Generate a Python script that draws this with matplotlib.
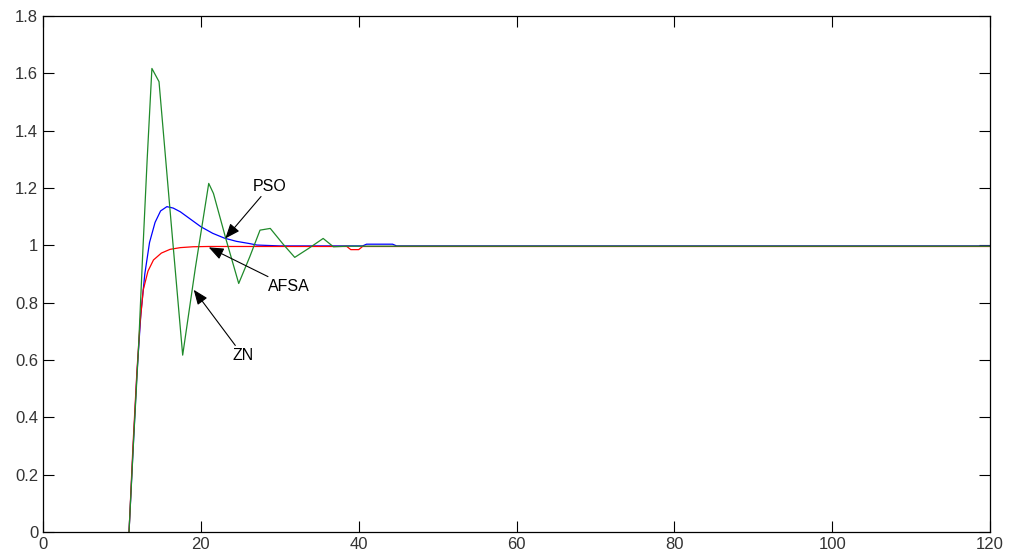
import matplotlib
matplotlib.use("Agg")
import matplotlib.pyplot as plt

# step responses (time, output)
zn_t = [10.9, 11.5, 12.1, 12.6, 13.2, 13.8, 14.7, 16.2, 17.7, 19.3, 21.0, 21.6, 23.2, 24.8,
        26.2, 27.5, 28.8, 30.4, 31.9, 33.7, 35.5, 36.8, 38.5, 120]
zn_y = [0, 0.33, 0.64, 0.95, 1.30, 1.617, 1.571, 1.09, 0.617, 0.92, 1.216, 1.181, 1.02, 0.867,
        0.96, 1.053, 1.059, 1.005, 0.958, 0.99, 1.024, 0.995, 0.997, 0.997]

pso_t = [10.9, 11.4, 11.9, 12.4, 12.9, 13.5, 14.2, 14.9, 15.7, 16.5, 17.4, 18.5, 20.0, 21.5,
         23.0, 24.5, 26.2, 27.1, 30.0, 40.5, 41.0, 44.3, 44.8, 120]
pso_y = [0, 0.28, 0.55, 0.76, 0.90, 1.01, 1.08, 1.12, 1.135, 1.13, 1.117, 1.095, 1.065, 1.042,
         1.025, 1.014, 1.006, 1.001, 0.998, 0.998, 1.004, 1.004, 0.998, 0.998]

afsa_t = [10.9, 11.4, 11.9, 12.3, 12.7, 13.3, 14.0, 15.0, 16.1, 17.4, 19.0, 21.0, 38.5, 39.0,
          40.0, 40.5, 120]
afsa_y = [0, 0.30, 0.56, 0.73, 0.844, 0.91, 0.949, 0.973, 0.986, 0.992, 0.995, 0.996, 0.996,
          0.985, 0.985, 0.996, 0.996]

x_ticks = [0, 20, 40, 60, 80, 100, 120]
y_ticks = [0, 0.2, 0.4, 0.6, 0.8, 1, 1.2, 1.4, 1.6, 1.8]
y_tick_labels = ['0', '0.2', '0.4', '0.6', '0.8', '1', '1.2', '1.4', '1.6', '1.8']

plt.rcParams['font.family'] = ['Liberation Sans', 'DejaVu Sans']

fig = plt.figure(figsize=(10.14, 5.6), dpi=100)
ax = fig.add_axes([43 / 1014, 1 - 532 / 560, 947 / 1014, 516 / 560])

ax.plot(pso_t, pso_y, color='#0000ff', lw=0.9)
ax.plot(afsa_t, afsa_y, color='#ff0000', lw=0.9)
ax.plot(zn_t, zn_y, color='#1f8a2a', lw=0.9)

arrow = dict(arrowstyle='-|>,head_length=0.5,head_width=0.2', color='k', lw=0.8,
             mutation_scale=18, shrinkA=0, shrinkB=0)
ax.annotate('PSO', xy=(23.1, 1.024), xytext=(26.6, 1.18), fontsize=11.5,
            ha='left', va='bottom', arrowprops=arrow)
ax.annotate('AFSA', xy=(21.0, 0.993), xytext=(28.5, 0.855), fontsize=11.5,
            ha='left', va='center', arrowprops=arrow)
ax.annotate('ZN', xy=(19.1, 0.845), xytext=(24.0, 0.615), fontsize=11.5,
            ha='left', va='center', arrowprops=arrow)

ax.set_xlim(0, 120)
ax.set_ylim(0, 1.8)
ax.set_xticks(x_ticks)
ax.set_yticks(y_ticks)
ax.set_yticklabels(y_tick_labels)
ax.tick_params(direction='in', length=8, width=0.8, top=True, right=True, labelsize=12,
               colors='k', labelcolor='#333333')
for s in ax.spines.values():
    s.set_linewidth(0.9)

fig.savefig("out.png", dpi=100)
